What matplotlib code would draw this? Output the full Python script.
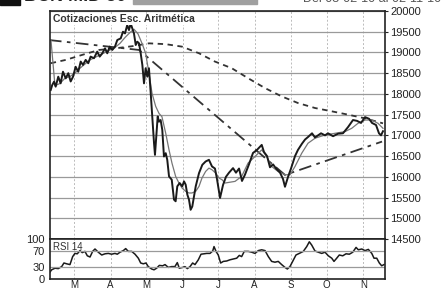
import numpy as np
import matplotlib
matplotlib.use('Agg')
from matplotlib import pyplot as plt

plt.rcParams['font.family'] = ['Liberation Sans', 'DejaVu Sans']

# dias desde el 1 de marzo de 2010 / valores
price_days = [-19.7, -18.4, -16.9, -15.5, -13.3, -11.3, -9.3, -7.0, -4.8, -2.8, -0.8, 1.4, 3.6, 5.7, 7.6,
              9.9, 12.1, 14.1, 16.9, 19.7, 21.8, 24.0, 26.3, 28.2, 30.2, 32.4, 34.7, 36.7, 39.6, 41.5,
              43.2, 45.1, 46.6, 48.0, 49.4, 50.8, 52.3, 53.6, 55.1, 56.5, 57.9, 59.3, 60.7, 62.1, 63.5,
              65.0, 66.3, 67.8, 68.6, 69.7, 70.9, 72.0, 73.4, 74.8, 76.2, 77.7, 79.0, 80.5, 82.8, 84.7,
              86.1, 87.5, 89.5, 91.7, 93.2, 94.6, 96.0, 97.4, 98.8, 100.2, 103.1, 105.9, 108.7, 111.5,
              114.3, 116.9, 119.4, 121.1, 123.7, 126.2, 128.7, 131.3, 134.7, 137.2, 139.8, 142.3, 144.8,
              148.2, 151.6, 155.0, 159.0, 160.9, 163.5, 166.0, 168.6, 171.1, 174.5, 177.0, 178.7, 181.3,
              183.8, 187.2, 189.7, 193.1, 195.7, 198.2, 201.6, 204.1, 206.7, 209.2, 212.6, 215.1, 219.4,
              223.6, 227.8, 232.1, 236.3, 239.7, 243.1, 246.5, 249.9, 252.4, 255.8, 258.3, 260.0, 261.7]
price = [18095, 18215, 18295, 18175, 18415, 18255, 18535, 18375, 18500, 18300, 18415, 18655, 18535, 18780, 18700,
         18820, 18740, 18900, 18860, 19020, 18900, 18980, 19100, 18980, 19140, 19060, 19140, 19300, 19340, 19500,
         19460, 19660, 19540, 19700, 19580, 19460, 19180, 19260, 19220, 18980, 18700, 18255, 18620, 18415, 18620,
         18015, 17455, 16810, 16530, 16970, 17455, 17330, 17370, 17130, 16490, 16570, 16410, 16010, 15930, 15450,
         15410, 15770, 15850, 15770, 15890, 15810, 15570, 15450, 15205, 15285, 15770, 16090, 16290, 16370,
         16410, 16250, 16200, 15950, 15490, 15800, 16000, 16100, 16210, 16100, 16200, 15900, 16050,
         16300, 16575, 16650, 16770, 16600, 16500, 16230, 16300, 16200, 16100, 15950, 15760, 16000,
         16200, 16500, 16650, 16800, 16900, 16960, 17050, 16950, 17000, 17050, 17000, 17050, 16980,
         17040, 17050, 17200, 17370, 17350, 17300, 17440, 17400, 17300, 17250, 17050, 17000, 17100]

ma_short_days = [-19.5, -16.1, -11.9, -7.6, -3.4, 0.8, 5.1, 9.3, 13.6, 17.8, 22.0, 26.3, 30.5, 34.7, 39.0,
                 43.2, 47.4, 50.8, 54.2, 57.6, 60.7, 63.5, 66.1, 69.2, 72.0, 74.5, 77.7, 80.5, 83.0, 86.1,
                 88.9, 91.5, 94.6, 97.4, 99.9, 103.1, 105.9, 108.4, 111.5, 114.3, 116.9, 120.0, 122.8, 125.4,
                 127.9, 136.4, 142.0, 147.4, 153.3, 159.0, 163.2, 167.4, 172.8, 178.7, 183.0, 187.2, 192.9,
                 198.2, 204.1, 212.6, 221.1, 229.5, 235.2, 240.5, 246.5, 252.2, 257.5, 261.7]
ma_short = [19300, 18200, 18250, 18380, 18420, 18500, 18620, 18720, 18820, 18880, 18940, 19000, 19060, 19120, 19220,
            19360, 19480, 19560, 19450, 19220, 18980, 18500, 18015, 17700, 17530, 17450, 17050, 16650, 16330, 16010,
            15850, 15730, 15650, 15610, 15610, 15650, 15770, 15970, 16130, 16210, 16170, 16090, 15970, 15930,
            15850, 15890, 16010, 16330, 16490, 16650, 16490, 16250, 16130, 16050, 16050, 16250, 16570,
            16810, 16930, 17010, 17050, 17090, 17170, 17290, 17370, 17370, 17290, 17170]

ma_long_days = [-19.7, -7.0, 6.8, 21.2, 35.3, 49.1, 63.5, 77.7, 91.5, 105.9, 119.4, 133.6, 147.4, 161.8,
                175.9, 189.7, 204.1, 218.3, 232.1, 246.5, 261.7]
ma_long = [18740, 18820, 18940, 19060, 19100, 19150, 19220, 19200, 19140, 18980, 18780, 18620, 18380, 18140,
           17940, 17780, 17660, 17580, 17500, 17410, 17290]

trend_days = [-21.2, 55.1, 178.7, 260.9]
trend = [19300, 19060, 16045, 16850]

rsi_days = [-20.9, -18.9, -16.1, -13.3, -10.4, -8.5, -6.2, -3.4, -1.1, 0.8, 2.8, 5.1, 7.0, 9.3, 11.3, 13.6,
            15.8, 17.8, 20.6, 23.5, 26.3, 29.1, 31.9, 34.7, 36.7, 39.0, 41.8, 43.8, 46.0, 48.9, 51.7, 54.5,
            56.5, 58.7, 61.0, 62.9, 65.8, 67.8, 70.0, 72.3, 75.1, 77.1, 79.9, 82.7, 85.5, 87.5, 89.2, 92.1,
            94.0, 96.0, 98.3, 100.5, 102.5, 105.3, 107.6, 110.1, 112.4, 115.2, 117.5, 118.6, 120.3, 122.2,
            124.2, 126.5, 129.3, 132.1, 134.9, 137.8, 140.0, 142.0, 144.2, 147.6, 150.5, 153.3, 156.1, 159.0,
            161.8, 164.6, 167.4, 170.2, 173.0, 175.9, 178.7, 180.7, 182.9, 185.2, 188.0, 190.8, 194.2, 197.1,
            199.3, 201.3, 204.1, 206.9, 209.8, 212.6, 215.4, 218.3, 220.2, 222.5, 224.7, 227.6, 230.4, 233.2,
            236.1, 238.9, 240.8, 243.7, 246.5, 249.3, 252.2, 254.1, 256.4, 258.6, 260.6, 262.5]
rsi = [15, 23, 27, 26, 31, 40, 38, 36, 56, 64, 63, 71, 66, 69, 58, 55,
       69, 75, 67, 60, 63, 64, 62, 64, 62, 67, 71, 76, 69, 69, 62, 52,
       40, 38, 40, 31, 25, 23, 27, 34, 33, 36, 29, 31, 31, 41, 27, 29,
       31, 26, 31, 40, 36, 48, 62, 63, 64, 64, 70, 81, 69, 60,
       40, 44, 45, 48, 50, 52, 59, 56, 69, 69, 67, 64, 71, 73,
       71, 56, 44, 42, 44, 36, 29, 25, 31, 44, 60, 64, 69, 81,
       93, 85, 70, 67, 64, 67, 58, 52, 44, 52, 60, 58, 63, 62,
       67, 79, 73, 75, 71, 74, 64, 52, 52, 40, 33, 36]

month_days = [0, 31, 61, 92, 122, 153, 184, 214, 245]
month_labels = ['M', 'A', 'M', 'J', 'J', 'A', 'S', 'O', 'N']
price_ticks = np.arange(14500, 20001, 500)
rsi_ticks = [0, 30, 70, 100]

xmin, xmax = -20.3, 263.4

fig = plt.figure(figsize=(4.43, 2.89), dpi=100)
fig.patch.set_facecolor('white')

ax = fig.add_axes([50 / 443, 1 - 239 / 289, 335 / 443, 228 / 289])
ax2 = fig.add_axes([50 / 443, 1 - 279 / 289, 335 / 443, 40 / 289])

# cabecera (cortada en el recorte original)
fig.patches.append(plt.Rectangle((0.0, 0.983), 0.045, 0.02, transform=fig.transFigure, color='#111111'))
fig.text(0.055, 1.012, 'BCN MID 30', fontsize=13, fontweight='bold', color='#222222', va='center')
fig.patches.append(plt.Rectangle((0.30, 0.985), 0.28, 0.02, transform=fig.transFigure, color='#a0a0a0'))
fig.text(0.995, 1.005, 'Del 03-02-10 al 02-11-10', fontsize=9, color='#555555', va='center', ha='right')

ax.plot(trend_days, trend, color='#333333', lw=1.3, dashes=(7, 3, 2, 3))
ax.plot(ma_long_days, ma_long, color='#333333', lw=1.3, dashes=(3, 2.5))
ax.plot(ma_short_days, ma_short, color='#777777', lw=0.9)
ax.plot(price_days, price, color='#1a1a1a', lw=1.4)

ax.set_xlim(xmin, xmax)
ax.set_ylim(14500, 20000)
ax.set_yticks(price_ticks)
ax.yaxis.tick_right()
ax.tick_params(axis='y', length=2, pad=2, labelsize=8, colors='#222222')
ax.set_xticks(month_days)
ax.tick_params(axis='x', length=0, labelbottom=False)
ax.grid(axis='y', color='#9a9a9a', lw=0.9)
ax.grid(axis='x', color='#bbbbbb', lw=0.7, ls=(0, (2, 2)))
ax.text(0.01, 0.985, 'Cotizaciones Esc. Aritmética', transform=ax.transAxes, fontsize=7.5,
        fontweight='bold', color='#333333', va='top', ha='left',
        bbox=dict(facecolor='white', edgecolor='none', pad=0.5))

ax2.plot(rsi_days, rsi, color='#1a1a1a', lw=1.1)
ax2.set_xlim(xmin, xmax)
ax2.set_ylim(0, 100)
ax2.set_yticks(rsi_ticks)
ax2.tick_params(axis='y', length=0, pad=4, labelsize=8, colors='#222222')
ax2.set_xticks(month_days)
ax2.set_xticklabels(month_labels)
ax2.tick_params(axis='x', length=0, pad=0.5, labelsize=7, colors='#222222')
for v in [30, 70]:
    ax2.axhline(v, color='#9a9a9a', lw=0.9)
ax2.grid(axis='x', color='#bbbbbb', lw=0.7, ls=(0, (2, 2)))
ax2.text(0.008, 0.93, 'RSI 14', transform=ax2.transAxes, fontsize=7, color='#333333', va='top', ha='left')

for a in (ax, ax2):
    for s in a.spines.values():
        s.set_linewidth(1.2)
        s.set_color('#222222')

fig.savefig('out.png', dpi=100)
